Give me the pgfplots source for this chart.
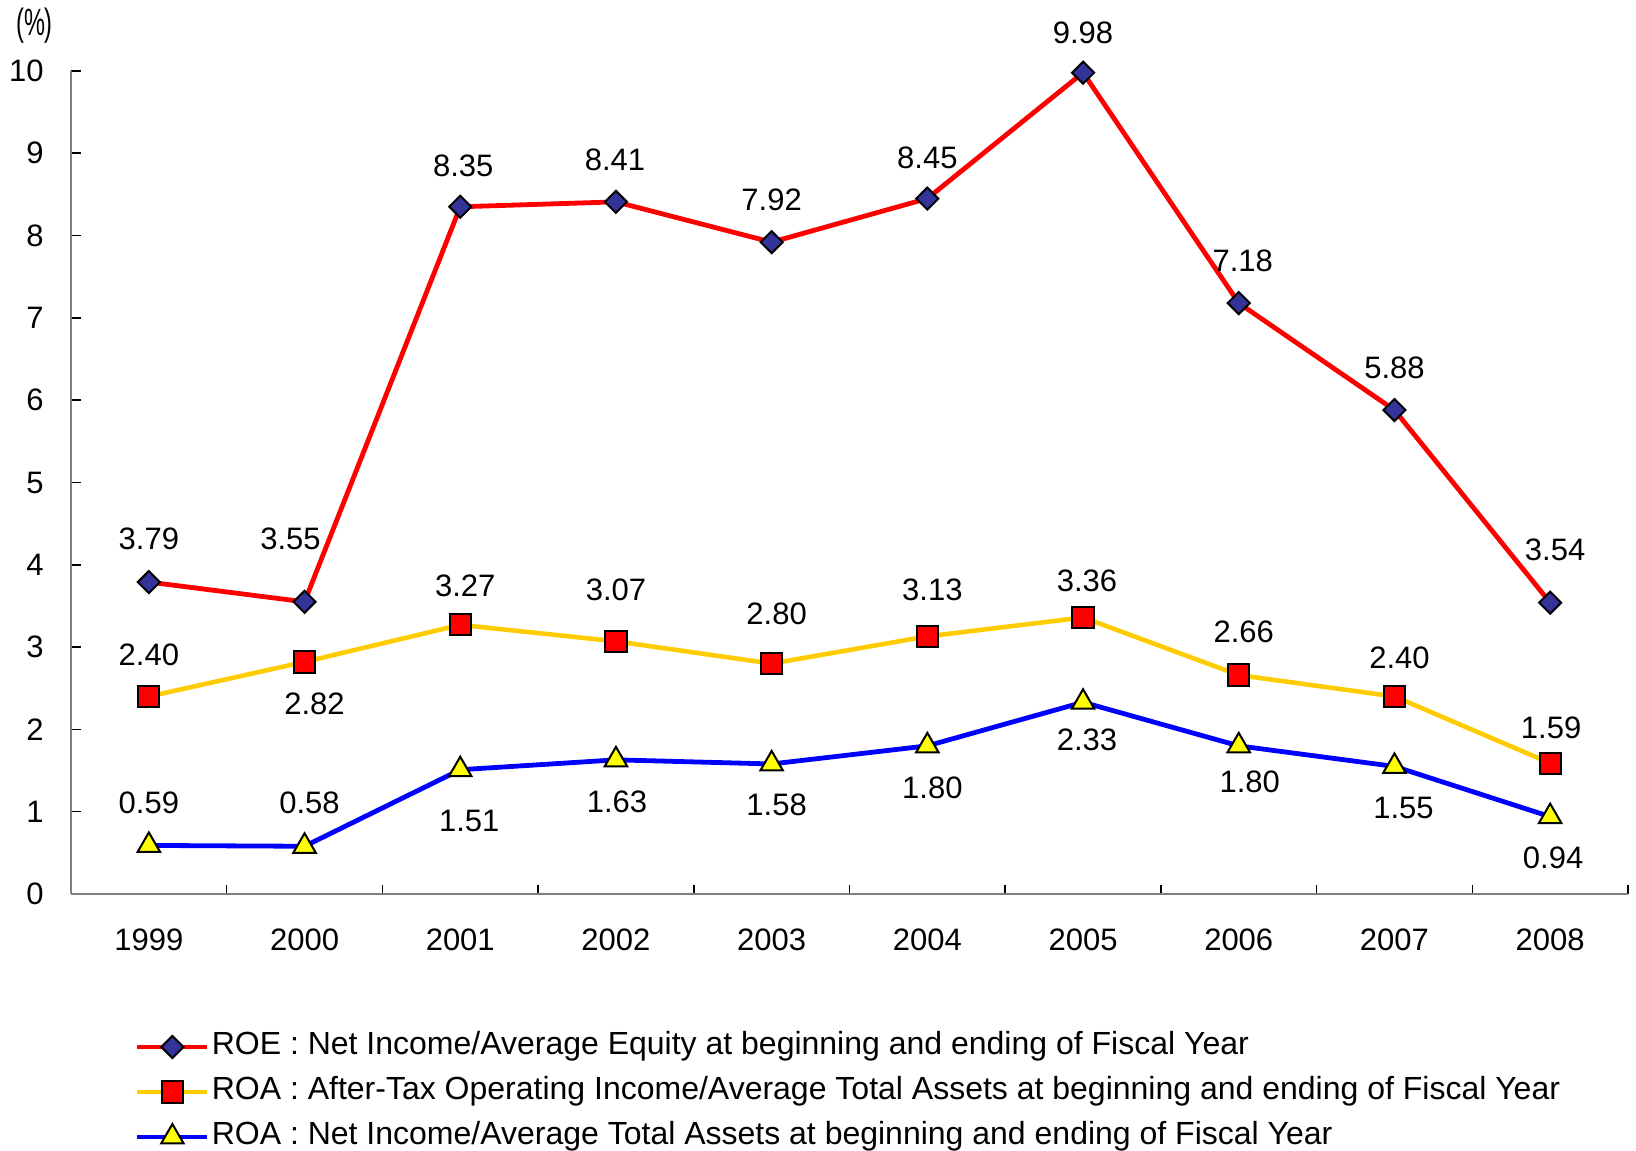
\documentclass[border=0pt]{standalone}
\usepackage{fontspec}
\setmainfont{Liberation Sans}
\usepackage{graphicx}
\usepackage{pgfplots}
\pgfplotsset{compat=1.18}
\usepackage{pgfplotstable}
\definecolor{roeline}{HTML}{FF0000}
\definecolor{roemark}{HTML}{333399}
\definecolor{roaaline}{HTML}{FFCC00}
\definecolor{roaamark}{HTML}{FF0000}
\definecolor{roabline}{HTML}{0000FF}
\definecolor{roabmark}{HTML}{FFFF00}
\definecolor{axgray}{HTML}{808080}
\newcommand{\fs}{\fontsize{15.5pt}{18pt}\selectfont}
\newcommand{\lfs}{\fontsize{16pt}{20pt}\selectfont}

\pgfplotstableread{
x y dx dy
0 3.79 0 21.5
1 3.55 -7 31.5
2 8.35 1.5 20.5
3 8.41 -0.5 21
4 7.92 0 21
5 8.45 0 20.5
6 9.98 0 20
7 7.18 2 21
8 5.88 0 21
9 3.54 2.5 26.5
}\roe
\pgfplotstableread{
x y dx dy
0 2.40 0 21
1 2.82 5 -21
2 3.27 2.5 19.5
3 3.07 0 26
4 2.80 2.5 25
5 3.13 2.5 23.5
6 3.36 2 18.5
7 2.66 2.5 21.5
8 2.40 2.5 19.5
9 1.59 0.5 17.5
}\roaa
\pgfplotstableread{
x y dx dy
0 0.59 0 21.5
1 0.58 2.5 21.5
2 1.51 4.5 -25.5
3 1.63 0.5 -21
4 1.58 2.5 -20.5
5 1.80 2.5 -21
6 2.33 2 -19
7 1.80 5.5 -18
8 1.55 4.5 -21
9 0.94 1.5 -20.5
}\roab

\pgfplotsset{
  lbl/.style={
    nodes near coords={\pgfmathprintnumber[fixed,fixed zerofill,precision=2]{\pgfplotspointmeta}},
    visualization depends on={\thisrow{dx} \as \dx},
    visualization depends on={\thisrow{dy} \as \dy},
    every node near coord/.append style={anchor=center, inner sep=0pt, xshift=\dx pt, yshift=\dy pt, font=\fs, text=black},
  }
}

\begin{document}
\begin{tikzpicture}
\begin{axis}[
  scale only axis, width=778.5pt, height=411.5pt,
  xmin=-0.5, xmax=9.5, ymin=0, ymax=10,
  axis x line*=bottom, axis y line*=left,
  axis line style={draw=axgray, line width=1pt},
  xtick={0,1,2,3,4,5,6,7,8,9},
  xticklabels={1999,2000,2001,2002,2003,2004,2005,2006,2007,2008},
  minor xtick={-0.5,0.5,1.5,2.5,3.5,4.5,5.5,6.5,7.5,8.5,9.5},
  ytick={0,1,2,3,4,5,6,7,8,9,10},
  tick align=inside,
  major x tick style={draw=none},
  minor x tick style={draw=black, line width=0.8pt},
  y tick style={draw=black, line width=0.8pt},
  major tick length=5pt, minor tick length=4.5pt,
  yticklabel style={anchor=east, inner sep=0pt, xshift=-13.5pt, font=\fs},
  xticklabel style={anchor=north, inner sep=0pt, yshift=-17pt, font=\fs},
  /pgf/number format/assume math mode=true,
  clip=false,
  legend style={at={(0,0)}, anchor=north west, xshift=32pt, yshift=-68.5pt,
    draw=none, fill=none, inner sep=0pt, outer sep=0pt, row sep=6.5pt, column sep=1pt,
    font=\lfs, nodes={inner sep=0pt, text height=12pt, text depth=4pt}},
  legend cell align=left,
  legend image code/.code={\draw[mark repeat=2, mark phase=2] plot coordinates {(0pt,0pt) (17.5pt,0pt) (35pt,0pt)};},
]
\addplot[roeline, line width=2.4pt, mark=square*, mark size=3.9pt,
  mark options={rotate=45, fill=roemark, draw=black, line width=1pt}, lbl]
  table[x=x, y=y, meta=y] {\roe};
\addlegendentry{ROE : Net Income/Average Equity at beginning and ending of Fiscal Year}
\addplot[roaaline, line width=2.3pt, mark=square*, mark size=5.3pt,
  mark options={fill=roaamark, draw=black, line width=1pt}, lbl]
  table[x=x, y=y, meta=y] {\roaa};
\addlegendentry{ROA : After-Tax Operating Income/Average Total Assets at beginning and ending of Fiscal Year}
\addplot[roabline, line width=2.4pt, mark=triangle*, mark size=6.5pt,
  mark options={fill=roabmark, draw=black, line width=1pt}, lbl]
  table[x=x, y=y, meta=y] {\roab};
\addlegendentry{ROA : Net Income/Average Total Assets at beginning and ending of Fiscal Year}
\node[font=\fontsize{19pt}{20pt}\selectfont, inner sep=0pt] at (rel axis cs:0,1) [xshift=-18.25pt, yshift=22.5pt] {\scalebox{0.62}[1]{(\%)}};
\end{axis}
\pgfresetboundingbox
\useasboundingbox ([xshift=-35.5pt,yshift=-128.5pt]current axis.south west) rectangle ([xshift=4pt,yshift=35.5pt]current axis.north east);
\end{tikzpicture}
\end{document}
